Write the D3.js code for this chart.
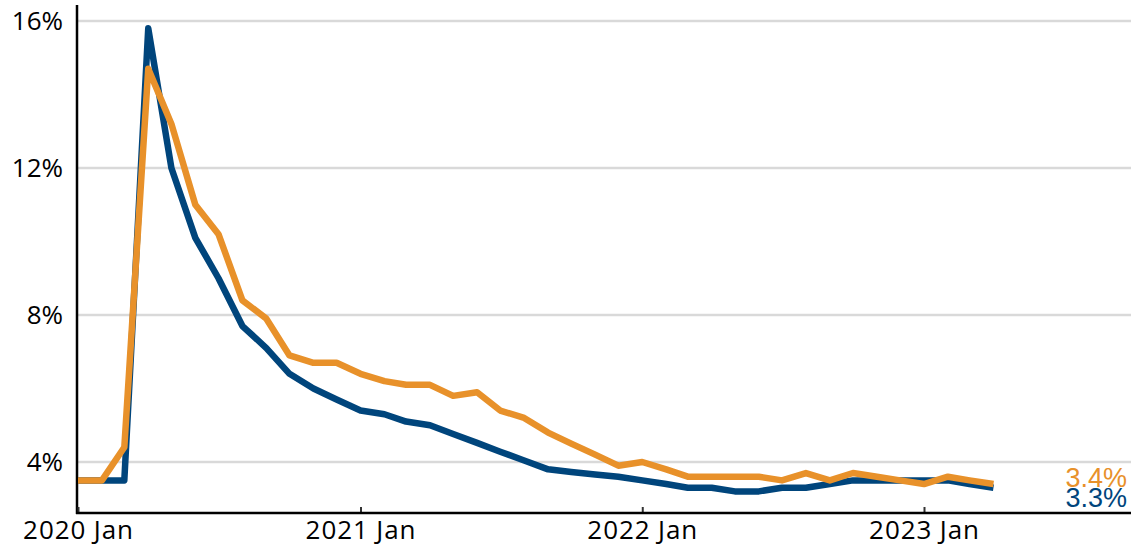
<!DOCTYPE html>
<html>
<head>
<meta charset="utf-8">
<script src="https://cdn.jsdelivr.net/npm/d3@7"></script>
<style>
  html, body { margin: 0; padding: 0; background: #fff; }
  svg { display: block; }
</style>
</head>
<body>
<svg id="chart" width="1131" height="550"></svg>
<script>
// Monthly, Jan 2020 .. Apr 2023
const months = [
  "2020-01","2020-02","2020-03","2020-04","2020-05","2020-06","2020-07","2020-08","2020-09","2020-10","2020-11","2020-12",
  "2021-01","2021-02","2021-03","2021-04","2021-05","2021-06","2021-07","2021-08","2021-09","2021-10","2021-11","2021-12",
  "2022-01","2022-02","2022-03","2022-04","2022-05","2022-06","2022-07","2022-08","2022-09","2022-10","2022-11","2022-12",
  "2023-01","2023-02","2023-03","2023-04"
];
const seriesBlue = [
  3.5,3.5,3.5,15.8,12.0,10.1,9.0,7.7,7.1,6.4,6.0,5.7,
  5.4,5.3,5.1,5.0,4.76,4.52,4.28,4.04,3.8,3.73,3.66,3.6,
  3.5,3.4,3.3,3.3,3.2,3.2,3.3,3.3,3.4,3.5,3.5,3.5,
  3.5,3.5,3.4,3.3
];
const seriesOrange = [
  3.5,3.5,4.4,14.7,13.2,11.0,10.2,8.4,7.9,6.9,6.7,6.7,
  6.4,6.2,6.1,6.1,5.8,5.9,5.4,5.2,4.8,4.5,4.2,3.9,
  4.0,3.8,3.6,3.6,3.6,3.6,3.5,3.7,3.5,3.7,3.6,3.5,
  3.4,3.6,3.5,3.4
];
const yTicks = [4, 8, 12, 16];
const xTicks = ["2020-01","2021-01","2022-01","2023-01"];
const endLabels = [
  {text: "3.4%", series: "orange"},
  {text: "3.3%", series: "blue"}
];

const colors = { blue: "#00457C", orange: "#E8912A" };
const parse = d3.timeParse("%Y-%m");
const dates = months.map(parse);

const svg = d3.select("#chart");
const W = 1131;
const axisX = 77, axisY = 513, topY = 5;

const x = d3.scaleTime()
  .domain([parse("2020-01"), parse("2023-01")])
  .range([78, 924]);
const y = d3.scaleLinear().domain([4, 16]).range([462, 21]);

// gridlines
svg.append("g").selectAll("line").data(yTicks).join("line")
  .attr("x1", axisX).attr("x2", W)
  .attr("y1", d => y(d)).attr("y2", d => y(d))
  .attr("stroke", "#d9d9d9").attr("stroke-width", 2.5);

// y axis
const yAxis = d3.axisLeft(y).tickValues(yTicks).tickSize(0).tickPadding(14)
  .tickFormat(d => d + "%");
const gy = svg.append("g").attr("transform", `translate(${axisX},0)`).call(yAxis);
gy.select(".domain").remove();
gy.selectAll("text")
  .attr("font-family", "'Open Sans', sans-serif")
  .attr("font-size", 26).attr("fill", "#000");
svg.append("line").attr("x1", axisX).attr("x2", axisX).attr("y1", topY).attr("y2", axisY + 1)
  .attr("stroke", "#000").attr("stroke-width", 2.5);

// x axis
const xAxis = d3.axisBottom(x).tickValues(xTicks.map(parse)).tickSize(-6).tickPadding(8)
  .tickFormat(d3.timeFormat("%Y %b"));
const gx = svg.append("g").attr("transform", `translate(0,${axisY})`).call(xAxis);
gx.select(".domain").remove();
gx.selectAll(".tick line").attr("stroke", "#333").attr("stroke-width", 2);
gx.selectAll("text")
  .attr("font-family", "'Open Sans', sans-serif")
  .attr("font-size", 26).attr("fill", "#000").attr("letter-spacing", "0.9px");
svg.append("line").attr("x1", axisX - 1).attr("x2", W).attr("y1", axisY).attr("y2", axisY)
  .attr("stroke", "#000").attr("stroke-width", 2.5);

// lines
const line = d3.line().x((d, i) => x(dates[i])).y(d => y(d));
svg.append("path").datum(seriesBlue)
  .attr("d", line).attr("fill", "none").attr("stroke", colors.blue)
  .attr("stroke-width", 6.5).attr("stroke-linejoin", "round");
svg.append("path").datum(seriesOrange)
  .attr("d", line).attr("fill", "none").attr("stroke", colors.orange)
  .attr("stroke-width", 6.5).attr("stroke-linejoin", "round");

// end labels
svg.append("g").selectAll("text").data(endLabels).join("text")
  .attr("x", 1127)
  .attr("y", (d, i) => 487 + i * 20)
  .attr("text-anchor", "end")
  .attr("font-family", "'Liberation Sans', Arial, sans-serif")
  .attr("font-size", 27)
  .attr("fill", d => colors[d.series])
  .text(d => d.text);
</script>
</body>
</html>
